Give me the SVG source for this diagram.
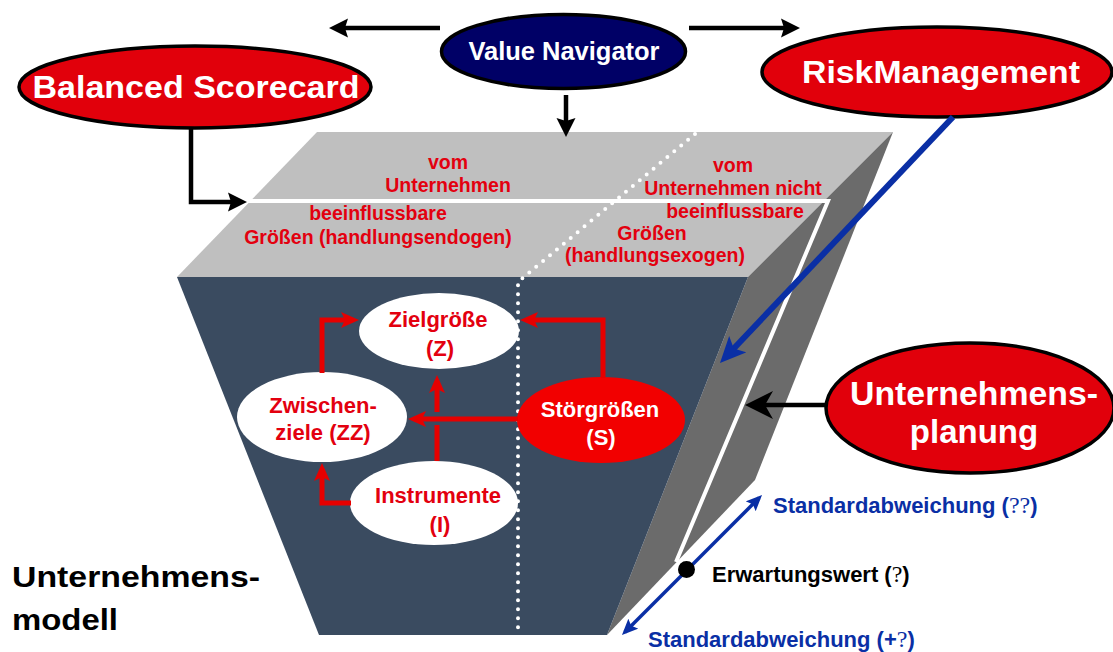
<svg xmlns="http://www.w3.org/2000/svg" width="1113" height="652" viewBox="0 0 1113 652">
<style>
text{font-family:"Liberation Sans",Arial,sans-serif;font-weight:bold}
.w{fill:#ffffff}
.r{fill:#e3000f}
.k{fill:#000000}
.b{fill:#0a2fa5}
.m{text-anchor:middle}
.sym{font-family:"Liberation Serif","Times New Roman",serif;font-weight:normal;font-size:24px}
.ov{stroke:#000;stroke-width:3.5}
.blk{fill:none;stroke:#000;stroke-width:4.5}
.red{fill:none;stroke:#e60000;stroke-width:5}
</style>
<defs>
<marker id="mk" markerUnits="userSpaceOnUse" markerWidth="20" markerHeight="20" refX="11" refY="10" orient="auto"><path d="M0,0.5 L19,10 L0,19.5 L3,10 z" fill="#000"/></marker>
<marker id="mkBig" markerUnits="userSpaceOnUse" markerWidth="30" markerHeight="32" refX="20" refY="15" orient="auto"><path d="M0,1 L28,15 L0,29 L8,15 z" fill="#000"/></marker>
<marker id="mkRed" markerUnits="userSpaceOnUse" markerWidth="20" markerHeight="18" refX="12" refY="8" orient="auto"><path d="M0,0 L18,8 L0,16 L4,8 z" fill="#e60000"/></marker>
<marker id="mkBlue" markerUnits="userSpaceOnUse" markerWidth="28" markerHeight="26" refX="18" refY="12" orient="auto"><path d="M0,0 L26,12 L0,24 L6,12 z" fill="#0a2fa5"/></marker>
<marker id="mkBlue2" markerUnits="userSpaceOnUse" markerWidth="18" markerHeight="16" refX="12" refY="7" orient="auto-start-reverse"><path d="M0,0 L16,7 L0,14 L3,7 z" fill="#0a2fa5"/></marker>
</defs>
<rect width="1113" height="652" fill="#ffffff"/>

<g id="model-block">
<polygon points="317,132 893,132 748,277 177,277" fill="#bfbfbf"/>
<polygon points="893,132 755,480 607,635 748,277" fill="#6b6b6b"/>
<polygon points="177,277 748,277 607,635 319,635" fill="#3a4b60"/>
<polyline points="245,201 828,201 676,562" fill="none" stroke="#ffffff" stroke-width="4"/>
<path d="M695,134 L518,282 V635" fill="none" stroke="#ffffff" stroke-width="4" stroke-dasharray="0 9" stroke-linecap="round"/>
<text class="r m" font-size="19.5"><tspan x="448" y="169">vom</tspan><tspan x="448" y="192">Unternehmen</tspan><tspan x="378" y="220">beeinflussbare</tspan><tspan x="378" y="244">Größen (handlungsendogen)</tspan></text>
<text class="r m" font-size="19.5"><tspan x="733" y="172">vom</tspan><tspan x="733" y="195">Unternehmen nicht</tspan><tspan x="735" y="218">beeinflussbare</tspan><tspan x="652" y="240">Größen</tspan><tspan x="655" y="262">(handlungsexogen)</tspan></text>
</g>

<g id="node-zielgroesse">
<ellipse cx="439" cy="331" rx="80" ry="38" fill="#ffffff"/>
<text class="r m" font-size="22"><tspan x="438" y="327">Zielgröße</tspan><tspan x="440" y="356">(Z)</tspan></text>
</g>
<g id="node-zwischenziele">
<ellipse cx="322" cy="417" rx="85" ry="45" fill="#ffffff"/>
<text class="r m" font-size="22"><tspan x="323" y="413">Zwischen-</tspan><tspan x="323" y="440">ziele (ZZ)</tspan></text>
</g>
<g id="node-instrumente">
<ellipse cx="434" cy="503" rx="84" ry="42" fill="#ffffff"/>
<text class="r m" font-size="22"><tspan x="438" y="503">Instrumente</tspan><tspan x="440" y="532">(I)</tspan></text>
</g>
<g id="node-stoergroessen">
<ellipse cx="601" cy="420" rx="84" ry="43" fill="#f20000"/>
<text class="w m" font-size="22"><tspan x="600" y="417">Störgrößen</tspan><tspan x="601" y="445">(S)</tspan></text>
</g>

<g id="node-value-navigator">
<ellipse cx="563.5" cy="51.5" rx="122" ry="37" fill="#000066" class="ov"/>
<text class="w m" x="564" y="60" font-size="25" textLength="191" lengthAdjust="spacingAndGlyphs">Value Navigator</text>
</g>
<g id="node-balanced-scorecard">
<ellipse cx="195" cy="87" rx="176" ry="41" fill="#e1000b" class="ov"/>
<text class="w m" x="196" y="98" font-size="31" textLength="327" lengthAdjust="spacingAndGlyphs">Balanced Scorecard</text>
</g>
<g id="node-riskmanagement">
<ellipse cx="937" cy="72" rx="175" ry="45" fill="#e1000b" class="ov"/>
<text class="w m" x="941" y="83" font-size="31" textLength="278" lengthAdjust="spacingAndGlyphs">RiskManagement</text>
</g>
<g id="node-unternehmensplanung">
<ellipse cx="970" cy="408" rx="144" ry="65" fill="#e1000b" class="ov"/>
<text class="w m" font-size="33"><tspan x="974" y="405" textLength="248" lengthAdjust="spacingAndGlyphs">Unternehmens-</tspan><tspan x="974" y="443">planung</tspan></text>
</g>

<g id="label-unternehmensmodell">
<text class="k" font-size="30"><tspan x="12" y="587" textLength="248" lengthAdjust="spacingAndGlyphs">Unternehmens-</tspan><tspan x="12" y="630" textLength="106" lengthAdjust="spacingAndGlyphs">modell</tspan></text>
</g>

<g id="distribution">
<path d="M624.8,632.2 L759.2,497.8" fill="none" stroke="#0a2fa5" stroke-width="3.5" marker-start="url(#mkBlue2)" marker-end="url(#mkBlue2)"/>
<circle cx="686.5" cy="569.5" r="8.5" fill="#000"/>
<text class="b" x="773" y="513" font-size="22">Standardabweichung (<tspan class="sym">??</tspan>)</text>
<text class="k" x="712" y="582" font-size="22">Erwartungswert (<tspan class="sym">?</tspan>)</text>
<text class="b" x="648" y="647" font-size="22">Standardabweichung (+<tspan class="sym">?</tspan>)</text>
</g>

<g id="connectors">
<path d="M440,28 H337" class="blk" marker-end="url(#mk)"/>
<path d="M689,28 H792" class="blk" marker-end="url(#mk)"/>
<path d="M566,95 V129" class="blk" marker-end="url(#mk)"/>
<path d="M191,128 V202 H239" class="blk" marker-end="url(#mk)"/>
<path d="M826,405 H753" class="blk" marker-end="url(#mkBig)"/>
<path d="M953,117 L725.5,357.2" fill="none" stroke="#0a2fa5" stroke-width="6" marker-end="url(#mkBlue)"/>
<path d="M322,373 V320 H353" class="red" marker-end="url(#mkRed)"/>
<path d="M603,378 V320 H526" class="red" marker-end="url(#mkRed)"/>
<path d="M518,419 H414" class="red" marker-end="url(#mkRed)"/>
<path d="M437,461 V425" class="red"/>
<path d="M437,412 V381" class="red" marker-end="url(#mkRed)"/>
<path d="M351,503 H322 V469" class="red" marker-end="url(#mkRed)"/>
</g>
</svg>
